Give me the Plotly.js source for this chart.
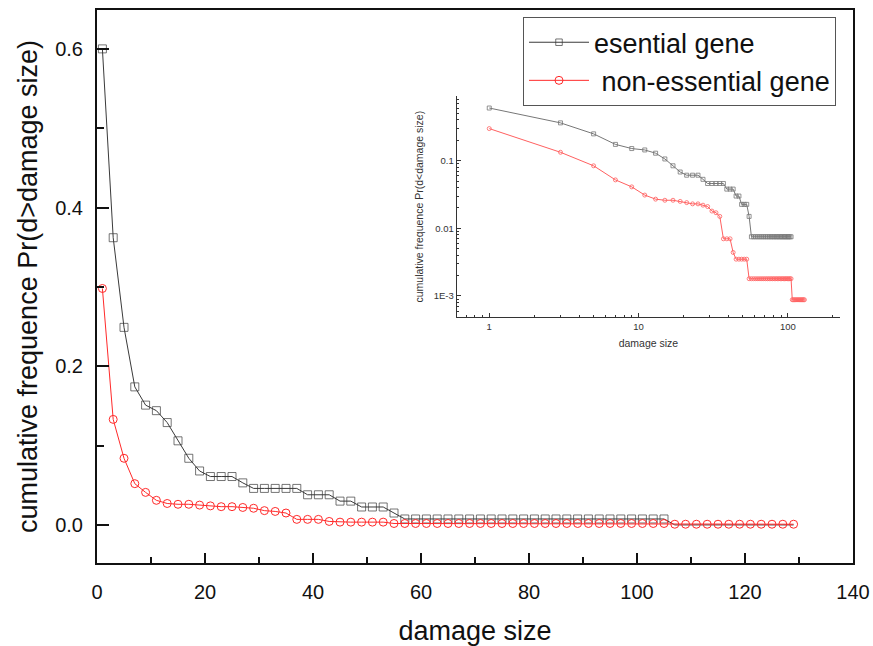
<!DOCTYPE html>
<html>
<head>
<meta charset="utf-8">
<script src="https://cdn.plot.ly/plotly-3.0.1.min.js"></script>
<style>html,body{margin:0;padding:0;background:#fff;}#chart{width:873px;height:646px;}</style>
</head>
<body>
<div id="chart"></div>
<script>
// damage size (odd values)
const damageSize = [1,3,5,7,9,11,13,15,17,19,21,23,25,27,29,31,33,35,37,39,41,43,45,47,49,51,53,55,57,59,61,63,65,67,69,71,73,75,77,79,81,83,85,87,89,91,93,95,97,99,101,103,105,107,109,111,113,115,117,119,121,123,125,127,129];

// cumulative frequence, essential gene
const essential = [0.600,0.362,0.249,0.174,0.151,0.144,0.129,0.106,0.084,0.068,0.061,0.061,0.061,0.053,0.046,0.046,0.046,0.046,0.046,0.038,0.038,0.038,0.030,0.030,0.0226,0.0226,0.0226,0.0150,
0.0075,0.0075,0.0075,0.0075,0.0075,0.0075,0.0075,0.0075,0.0075,0.0075,0.0075,0.0075,0.0075,0.0075,0.0075,0.0075,0.0075,0.0075,0.0075,0.0075,0.0075,0.0075,0.0075,0.0075,0.0075,
0,0,0,0,0,0,0,0,0,0,0,0];

// cumulative frequence, non-essential gene
const nonEssential = [0.298,0.133,0.084,0.052,0.041,0.031,0.027,0.026,0.026,0.025,0.024,0.023,0.023,0.022,0.021,0.018,0.017,0.015,0.0070,0.0070,0.0070,0.0044,
0.0035,0.0035,0.0035,0.0035,0.0035,
0.0018,0.0018,0.0018,0.0018,0.0018,0.0018,0.0018,0.0018,0.0018,0.0018,0.0018,0.0018,0.0018,0.0018,0.0018,0.0018,0.0018,0.0018,0.0018,0.0018,0.0018,0.0018,0.0018,0.0018,0.0018,0.0018,
0.00088,0.00088,0.00088,0.00088,0.00088,0.00088,0.00088,0.00088,0.00088,0.00088,0.00088,0.00088];

const seriesNames = ['esential gene', '\u00a0non-essential gene'];
const xTickVals = [0,20,40,60,80,100,120,140];
const yTickVals = [0,0.2,0.4,0.6];
const insetXTicks = [1,10,100];
const insetXTickText = ['1','10','100'];
const insetYTicks = [0.001,0.01,0.1];
const insetYTickText = ['1E-3','0.01','0.1'];
const insetXMinor = [0.6,0.7,0.8,0.9,2,3,4,5,6,7,8,9,20,30,40,50,60,70,80,90,200];
const insetYMinor = [0.0006,0.0007,0.0008,0.0009,0.002,0.003,0.004,0.005,0.006,0.007,0.008,0.009,0.02,0.03,0.04,0.05,0.06,0.07,0.08,0.09,0.2,0.3,0.4,0.5,0.6,0.7,0.8,0.9];

const FONT = 'Liberation Sans, Arial, sans-serif';
const BLACK = '#3a3a3a';
const RED = '#ff2a2a';

// zero values cannot be shown on the log inset, and the squares at zero are hidden in the main plot
const essentialLog = essential.map(v => v > 0 ? v : null);
const essentialMarkerSize = essential.map(v => v > 0 ? 8 : 0);

const traces = [
  {x: damageSize, y: essential, name: seriesNames[0], type: 'scatter', mode: 'lines+markers',
   line: {color: BLACK, width: 1},
   marker: {symbol: 'square-open', size: essentialMarkerSize, color: BLACK, line: {width: 1, color: BLACK}}},
  {x: damageSize, y: nonEssential, name: seriesNames[1], type: 'scatter', mode: 'lines+markers',
   line: {color: RED, width: 1},
   marker: {symbol: 'circle-open', size: 8, color: RED, line: {width: 1, color: RED}}},
  {x: damageSize, y: essentialLog, xaxis: 'x2', yaxis: 'y2', showlegend: false, type: 'scatter', mode: 'lines+markers',
   line: {color: '#777', width: 1},
   marker: {symbol: 'square-open', size: 4, color: '#777', line: {width: 0.8, color: '#777'}}},
  {x: damageSize, y: nonEssential, xaxis: 'x2', yaxis: 'y2', showlegend: false, type: 'scatter', mode: 'lines+markers',
   line: {color: '#ff6060', width: 1},
   marker: {symbol: 'circle-open', size: 4, color: '#ff6060', line: {width: 0.8, color: '#ff6060'}}}
];

const layout = {
  width: 873, height: 646,
  margin: {l: 97, r: 20, t: 10, b: 83},
  paper_bgcolor: '#fff', plot_bgcolor: '#fff',
  font: {family: FONT, color: '#111'},
  showlegend: true,
  legend: {x: 0.5635, y: 0.987, xanchor: 'left', yanchor: 'top',
    font: {size: 27, family: FONT, color: '#111'}, bordercolor: '#555', borderwidth: 1,
    bgcolor: '#fff', itemwidth: 60, tracegroupgap: 0},
  xaxis: {range: [0, 140], tickvals: xTickVals, ticks: 'inside', ticklen: 10, tickwidth: 2, tickcolor: '#111',
    showline: true, linewidth: 2, linecolor: '#111', mirror: true, showgrid: false, zeroline: false,
    tickfont: {size: 20, family: FONT, color: '#111'}, ticklabelstandoff: 10,
    minor: {dtick: 10, ticks: 'inside', ticklen: 6, tickwidth: 2, tickcolor: '#111', showgrid: false},
    title: {text: 'damage size', font: {size: 27, family: FONT, color: '#111'}, standoff: 24}},
  yaxis: {range: [-0.048, 0.649], tickvals: yTickVals, tickformat: '.1f', ticks: 'inside', ticklen: 12, tickwidth: 2, tickcolor: '#111',
    showline: true, linewidth: 2, linecolor: '#111', mirror: true, showgrid: false, zeroline: false,
    tickfont: {size: 20, family: FONT, color: '#111'}, ticklabelstandoff: 8,
    minor: {dtick: 0.1, ticks: 'inside', ticklen: 7, tickwidth: 2, tickcolor: '#111', showgrid: false},
    title: {text: 'cumulative frequence Pr(d>damage size)', font: {size: 27, family: FONT, color: '#111'}, standoff: 10}},
  xaxis2: {type: 'log', domain: [0.4758, 0.983], anchor: 'y2', range: [-0.218, 2.35],
    tickvals: insetXTicks, ticktext: insetXTickText, ticks: 'inside', ticklen: 4, tickwidth: 1, tickcolor: '#333',
    showline: true, linewidth: 1, linecolor: '#333', showgrid: false, zeroline: false,
    tickfont: {size: 9.5, family: FONT, color: '#333'},
    minor: {tickvals: insetXMinor, ticks: 'inside', ticklen: 2.5, tickwidth: 1, tickcolor: '#333', showgrid: false},
    title: {text: 'damage size', font: {size: 10.5, family: FONT, color: '#333'}, standoff: 8}},
  yaxis2: {type: 'log', domain: [0.4443, 0.8445], anchor: 'x2', range: [-3.315, -0.044],
    tickvals: insetYTicks, ticktext: insetYTickText, ticks: 'inside', ticklen: 4, tickwidth: 1, tickcolor: '#333',
    showline: true, linewidth: 1, linecolor: '#333', showgrid: false, zeroline: false,
    tickfont: {size: 9.5, family: FONT, color: '#333'},
    minor: {tickvals: insetYMinor, ticks: 'inside', ticklen: 2.5, tickwidth: 1, tickcolor: '#333', showgrid: false},
    title: {text: 'cumulative frequence Pr(d<damage size)', font: {size: 10.5, family: FONT, color: '#333'}, standoff: 8}}
};

Plotly.newPlot('chart', traces, layout, {displayModeBar: false, staticPlot: true});
</script>
</body>
</html>
